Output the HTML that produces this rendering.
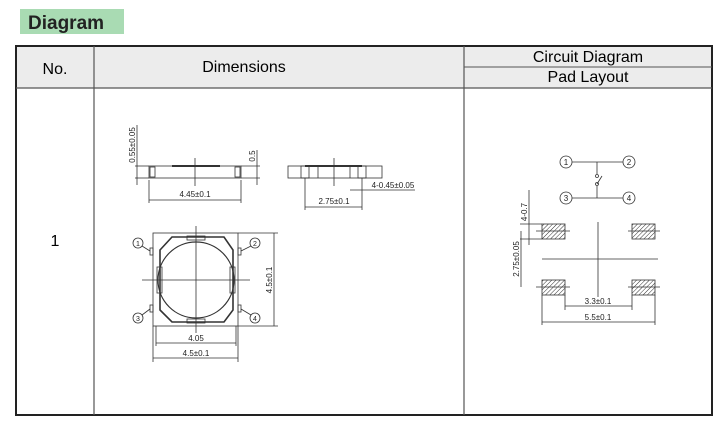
<!DOCTYPE html>
<html><head><style>
body{margin:0;background:#fff;width:726px;height:423px;overflow:hidden}
svg text{font-family:"Liberation Sans",Arial,sans-serif}
</style></head><body>
<svg width="726" height="423" viewBox="0 0 726 423" xmlns="http://www.w3.org/2000/svg">
<defs>
<pattern id="h" width="3" height="3" patternUnits="userSpaceOnUse" patternTransform="rotate(45)">
<line x1="0" y1="0" x2="0" y2="3" stroke="#333" stroke-width="1"/></pattern>
</defs>
<rect x="20" y="9" width="104" height="25" fill="#a9dbb3"/>
<text x="28" y="29" font-size="19" font-weight="bold" fill="#222">Diagram</text>
<rect x="16" y="46" width="696" height="42" fill="#ececec"/>
<rect x="16" y="46" width="696" height="369" fill="none" stroke="#222" stroke-width="2"/>
<line x1="94" y1="46" x2="94" y2="415" stroke="#555" stroke-width="1.2"/>
<line x1="464" y1="46" x2="464" y2="415" stroke="#555" stroke-width="1.2"/>
<line x1="16" y1="88" x2="712" y2="88" stroke="#555" stroke-width="1.2"/>
<line x1="464" y1="67" x2="712" y2="67" stroke="#555" stroke-width="1"/>
<text x="55" y="74" font-size="16" text-anchor="middle">No.</text>
<text x="244" y="72" font-size="16" text-anchor="middle">Dimensions</text>
<text x="588" y="62" font-size="16" text-anchor="middle">Circuit Diagram</text>
<text x="588" y="82" font-size="16" text-anchor="middle">Pad Layout</text>
<text x="55" y="246" font-size="16" text-anchor="middle">1</text>
<g stroke="#333" stroke-width="0.8" fill="none">
<!-- side view -->
<rect x="149" y="166" width="92" height="12"/>
<rect x="150" y="167" width="5" height="10"/><rect x="235" y="167" width="5" height="10"/>
<line x1="172" y1="166" x2="220" y2="166" stroke-width="2"/>
<line x1="195" y1="158" x2="195" y2="186"/>
<line x1="135" y1="166" x2="149" y2="166"/><line x1="135" y1="178" x2="149" y2="178"/>
<line x1="137" y1="125" x2="137" y2="185"/>
<line x1="241" y1="166" x2="260" y2="166"/><line x1="241" y1="178" x2="260" y2="178"/>
<line x1="257" y1="150" x2="257" y2="185"/>
<line x1="149" y1="180" x2="149" y2="203"/><line x1="241" y1="180" x2="241" y2="203"/>
<line x1="149" y1="200" x2="241" y2="200"/>
<rect x="288" y="166" width="94" height="12"/>
<rect x="301" y="166" width="8" height="12"/><rect x="358" y="166" width="8" height="12"/>
<line x1="318" y1="166" x2="318" y2="178"/><line x1="350" y1="166" x2="350" y2="178"/>
<line x1="305" y1="166" x2="362" y2="166" stroke-width="2"/>
<line x1="334" y1="158" x2="334" y2="186"/>
<line x1="305" y1="178" x2="305" y2="210"/><line x1="362" y1="178" x2="362" y2="210"/>
<line x1="305" y1="207" x2="362" y2="207"/>
<line x1="350" y1="190" x2="415" y2="190"/>
<!-- top view -->
<rect x="153" y="233" width="85" height="93"/>
<path d="M160 250 L172 237 L224 237 L233 250 L233 310 L224 322 L172 322 L160 310 Z" stroke-width="1.6"/>
<circle cx="196" cy="280" r="38" stroke-width="1.2"/>
<rect x="187" y="236" width="18" height="4"/><rect x="187" y="319" width="18" height="4"/>
<rect x="157" y="267" width="5" height="26"/><rect x="230" y="267" width="5" height="26"/>
<rect x="150" y="248" width="3" height="7"/><rect x="238" y="248" width="3" height="7"/>
<rect x="150" y="305" width="3" height="7"/><rect x="238" y="305" width="3" height="7"/>
<line x1="196" y1="226" x2="196" y2="333"/><line x1="142" y1="280" x2="250" y2="280"/>
<line x1="238" y1="233" x2="278" y2="233"/><line x1="238" y1="326" x2="278" y2="326"/>
<line x1="274" y1="233" x2="274" y2="326"/>
<line x1="156" y1="326" x2="156" y2="346"/><line x1="236" y1="326" x2="236" y2="346"/>
<line x1="156" y1="343" x2="236" y2="343"/>
<line x1="153" y1="326" x2="153" y2="362"/><line x1="238" y1="326" x2="238" y2="362"/>
<line x1="153" y1="358" x2="238" y2="358"/>
<circle cx="138" cy="243" r="5"/><circle cx="255" cy="243" r="5"/>
<circle cx="138" cy="318" r="5"/><circle cx="255" cy="318" r="5"/>
<line x1="142" y1="246" x2="150" y2="251"/><line x1="251" y1="246" x2="241" y2="251"/>
<line x1="142" y1="315" x2="150" y2="309"/><line x1="251" y1="315" x2="241" y2="309"/>
<!-- circuit -->
<circle cx="566" cy="162" r="6"/><circle cx="629" cy="162" r="6"/>
<circle cx="566" cy="198" r="6"/><circle cx="629" cy="198" r="6"/>
<line x1="572" y1="162" x2="623" y2="162"/><line x1="572" y1="198" x2="623" y2="198"/>
<line x1="597" y1="162" x2="597" y2="174"/><line x1="597" y1="186" x2="597" y2="198"/>
<circle cx="597" cy="176" r="1.5"/><circle cx="597" cy="184" r="1.5"/>
<line x1="597" y1="184" x2="602" y2="176"/>
<!-- pads -->
<line x1="598" y1="222" x2="598" y2="297"/><line x1="542" y1="259" x2="658" y2="259"/>
<line x1="536" y1="231" x2="570" y2="231"/><line x1="536" y1="287" x2="570" y2="287"/>
<line x1="628" y1="231" x2="660" y2="231"/><line x1="628" y1="287" x2="660" y2="287"/>
<line x1="520" y1="224" x2="542" y2="224"/><line x1="520" y1="239" x2="542" y2="239"/>
<line x1="529" y1="190" x2="529" y2="245"/>
<line x1="521" y1="231" x2="521" y2="287"/>
<line x1="565" y1="295" x2="565" y2="310"/><line x1="632" y1="295" x2="632" y2="310"/>
<line x1="565" y1="306" x2="632" y2="306"/>
<line x1="542" y1="295" x2="542" y2="325"/><line x1="655" y1="295" x2="655" y2="325"/>
<line x1="542" y1="322" x2="655" y2="322"/>
</g>
<g fill="url(#h)" stroke="#333" stroke-width="0.8">
<rect x="542" y="224" width="23" height="15"/><rect x="632" y="224" width="23" height="15"/>
<rect x="542" y="280" width="23" height="15"/><rect x="632" y="280" width="23" height="15"/>
</g>
<g font-size="8" fill="#222" text-anchor="middle">
<text x="195" y="197">4.45±0.1</text>
<text x="334" y="204">2.75±0.1</text>
<text x="393" y="188">4-0.45±0.05</text>
<text transform="translate(135,145) rotate(-90)">0.55±0.05</text>
<text transform="translate(255,156) rotate(-90)">0.5</text>
<text transform="translate(272,280) rotate(-90)">4.5±0.1</text>
<text x="196" y="341">4.05</text>
<text x="196" y="356">4.5±0.1</text>
<text x="138" y="246" font-size="7">1</text><text x="255" y="246" font-size="7">2</text>
<text x="138" y="321" font-size="7">3</text><text x="255" y="321" font-size="7">4</text>
<text x="566" y="165" font-size="8">1</text><text x="629" y="165" font-size="8">2</text>
<text x="566" y="201" font-size="8">3</text><text x="629" y="201" font-size="8">4</text>
<text transform="translate(527,212) rotate(-90)">4-0.7</text>
<text transform="translate(519,259) rotate(-90)">2.75±0.05</text>
<text x="598" y="304">3.3±0.1</text>
<text x="598" y="320">5.5±0.1</text>
</g>
</svg>
</body></html>
